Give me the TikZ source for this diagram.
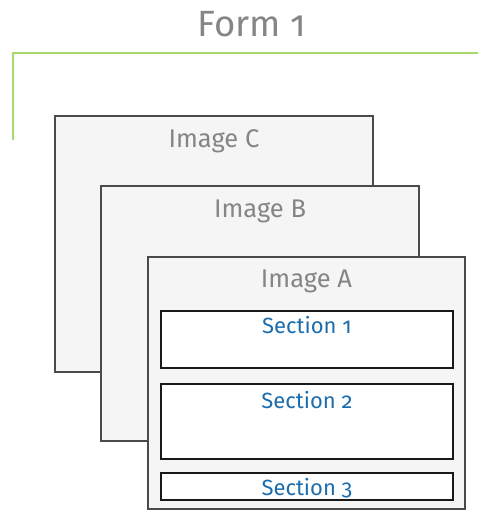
\documentclass[tikz,border=0pt]{standalone}
\usepackage{fontspec}
\setmainfont{Fira Sans}[Numbers=OldStyle]
\usepackage{tikz}
\usetikzlibrary{positioning}

\definecolor{formgreen}{HTML}{A8D96C}
\definecolor{imggray}{HTML}{F5F5F5}
\definecolor{framegray}{HTML}{4A4A4A}
\definecolor{labelgray}{HTML}{858585}
\definecolor{sectblue}{HTML}{1C6DAD}

\begin{document}
\begin{tikzpicture}[x=1pt,y=-1pt,
    imgbox/.style={draw=framegray,fill=imggray,line width=1.6pt,inner sep=0pt},
    sectbox/.style={draw=black!90,fill=white,line width=1.6pt,inner sep=0pt,minimum width=292pt},
    imglabel/.style={anchor=base,text=labelgray,font=\fontsize{25.5}{28}\selectfont},
    sectlabel/.style={anchor=base,text=sectblue,font=\fontsize{22}{26}\selectfont}]
    \useasboundingbox (0,0) rectangle (478,510);
    \node[anchor=base,text=labelgray,font=\fontsize{36.5}{42}\selectfont] (title) at (252,37) {Form 1};
    \coordinate (gcorner) at (13,53);
    \coordinate (gright) at (478,53);
    \coordinate (gdown) at (13,140);
    \draw[formgreen,line width=1.8pt] (gdown) -- (gcorner) -- (gright);
    % stacked images, back to front
    \node[imgbox,minimum width=318pt,minimum height=256pt] (imgC) at (214,244) {};
    \node[imglabel] (labC) at (214,148) {Image C};
    \node[imgbox,minimum width=318pt,minimum height=255pt] (imgB) at (260,313.5) {};
    \node[imglabel] (labB) at (260,218) {Image B};
    \node[imgbox,minimum width=317pt,minimum height=252pt] (imgA) at (306.5,383) {};
    \node[imglabel] (labA) at (306.5,287) {Image A};
    % sections of image A
    \foreach \n/\y/\h/\b in {1/339.5/57/333,2/421.5/75/408,3/486.5/27/495}{
        \node[sectbox,minimum height=\h pt] (sect\n) at (307,\y) {};
        \node[sectlabel] (slab\n) at (307,\b) {Section \n};
    }
\end{tikzpicture}
\end{document}
